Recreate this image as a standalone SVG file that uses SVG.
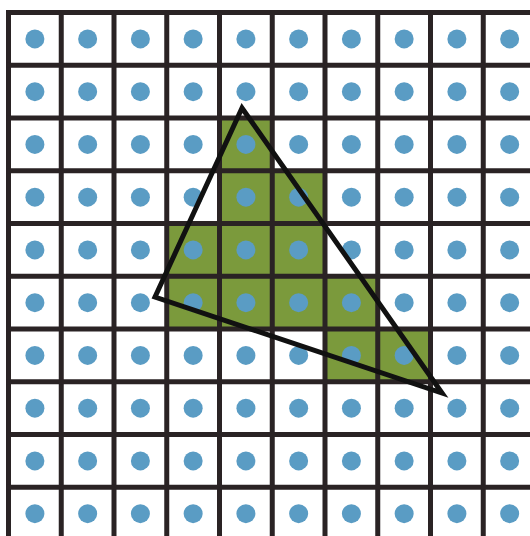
<svg xmlns="http://www.w3.org/2000/svg" width="530" height="536" viewBox="0 0 530 536">
<style>
.cell{fill:#7b9a3c}
.dot{fill:#5a9cc4}
.grid{stroke:#2a2324;stroke-width:5;fill:none}
.tri{stroke:#111;stroke-width:5;fill:none;stroke-linejoin:miter}
</style>
<defs>
<g id="row">
<circle class="dot" cx="34.9" cy="0" r="9.5"/>
<circle class="dot" cx="87.65" cy="0" r="9.5"/>
<circle class="dot" cx="140.4" cy="0" r="9.5"/>
<circle class="dot" cx="193.15" cy="0" r="9.5"/>
<circle class="dot" cx="245.9" cy="0" r="9.5"/>
<circle class="dot" cx="298.65" cy="0" r="9.5"/>
<circle class="dot" cx="351.4" cy="0" r="9.5"/>
<circle class="dot" cx="404.15" cy="0" r="9.5"/>
<circle class="dot" cx="456.9" cy="0" r="9.5"/>
<circle class="dot" cx="509.65" cy="0" r="9.5"/>
</g>
</defs>
<rect x="0" y="0" width="530" height="536" fill="#ffffff"/>
<g id="covered">
<rect class="cell" x="219.5" y="118" width="52.75" height="52.75"/>
<rect class="cell" x="219.5" y="170.75" width="105.5" height="52.75"/>
<rect class="cell" x="166.75" y="223.5" width="158.25" height="52.75"/>
<rect class="cell" x="166.75" y="276.25" width="211" height="52.75"/>
<rect class="cell" x="325" y="329" width="105.5" height="52.75"/>
</g>
<g id="samples">
<use href="#row" y="38.9"/>
<use href="#row" y="91.65"/>
<use href="#row" y="144.4"/>
<use href="#row" y="197.15"/>
<use href="#row" y="249.9"/>
<use href="#row" y="302.65"/>
<use href="#row" y="355.4"/>
<use href="#row" y="408.15"/>
<use href="#row" y="460.9"/>
<use href="#row" y="513.65"/>
</g>
<g id="grid" class="grid">
<path d="M8.5 10V536M61.25 10V536M114 10V536M166.75 10V536M219.5 10V536M272.25 10V536M325 10V536M377.75 10V536M430.5 10V536M483.25 10V536"/>
<path d="M6 12.5H530M6 65.25H530M6 118H530M6 170.75H530M6 223.5H530M6 276.25H530M6 329H530M6 381.75H530M6 434.5H530M6 487.25H530"/>
</g>
<g id="triangle">
<polygon class="tri" points="242,108 155,297 442,393"/>
</g>
</svg>
